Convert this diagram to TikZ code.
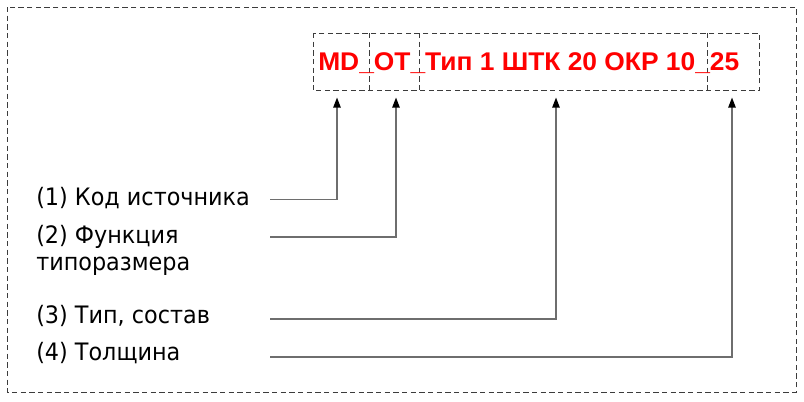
\documentclass[tikz,border=0pt]{standalone}
\usepackage{fontspec}
\setmainfont{DejaVu Sans}[FakeStretch=0.93]
\newfontfamily\codefont{Liberation Sans}[FakeStretch=1.03]
\usetikzlibrary{arrows.meta}
\definecolor{codered}{HTML}{FF0000}
\definecolor{frame}{HTML}{3C3C3C}
\definecolor{wire}{HTML}{6E6E6E}
\tikzset{
  dashframe/.style={draw=frame, line width=0.75pt, dash pattern=on 4pt off 2.5pt},
  partbox/.style={anchor=north west, minimum height=42.75pt, inner sep=0pt},
  legend/.style={anchor=base west, inner sep=0pt, font=\fontsize{18}{20.25}\selectfont, align=left},
  pointer/.style={draw=wire, line width=1pt, -{Triangle[color=black, length=7.5pt, width=5.5pt]}}
}

\begin{document}
\begin{tikzpicture}[x=0.75pt, y=-0.75pt]
  \useasboundingbox (0,0) rectangle (804,401);
  \draw[dashframe] (7,7) rectangle (796,392);
  \node[partbox, minimum width=42pt] (src) at (313,33) {};
  \node[partbox, minimum width=37.5pt] (func) at (369,33) {};
  \node[partbox, minimum width=216pt] (kind) at (419,33) {};
  \node[partbox, minimum width=39pt] (thick) at (707,33) {};
  \draw[dashframe] (src.north west) rectangle (thick.south east);
  \draw[dashframe] (func.north west) -- (func.south west);
  \draw[dashframe] (kind.north west) -- (kind.south west);
  \draw[dashframe] (thick.north west) -- (thick.south west);
  \node[anchor=base west, inner sep=0pt, text=codered, font=\codefont\bfseries\fontsize{19.2}{23}\selectfont] (code) at (318,70) {MD\_OT\_Тип 1 ШТК 20 ОКР 10\_25};

  \node[legend] (l1) at (36,205) {(1) Код источника};
  \node[legend] (l2) at (36,270) {(2) Функция\\типоразмера};
  \node[legend] (l3) at (36,323) {(3) Тип, состав};
  \node[legend] (l4) at (36,360) {(4) Толщина};

  \coordinate (s1) at (270,199.5);
  \coordinate (s2) at (270,237);
  \coordinate (s3) at (270,319);
  \coordinate (s4) at (270,357);
  \coordinate (t1) at (337,97.5);
  \coordinate (t2) at (396,97.5);
  \coordinate (t3) at (556,97.5);
  \coordinate (t4) at (732,97.5);
  \draw[pointer] (s1) -| (t1);
  \draw[pointer] (s2) -| (t2);
  \draw[pointer] (s3) -| (t3);
  \draw[pointer] (s4) -| (t4);
\end{tikzpicture}
\end{document}
